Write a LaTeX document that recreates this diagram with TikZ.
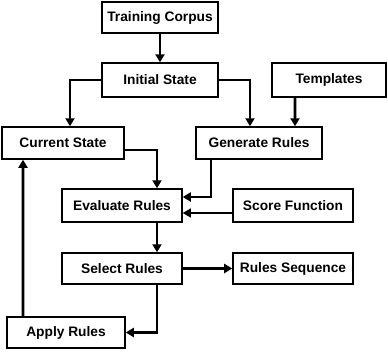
\documentclass[tikz,border=0pt]{standalone}
\usepackage{fontspec}
\setmainfont{Liberation Sans}
\usetikzlibrary{arrows.meta, positioning}
\tikzset{
  stage/.style={draw, line width=1.5bp, inner sep=0pt, font=\fontsize{13.8}{16}\selectfont\bfseries},
  flow/.style={line width=2.8bp, -{Triangle[length=8bp,width=9bp]}},
  thinflow/.style={line width=1.2bp, -{Triangle[length=8bp,width=9bp]}},
}
\begin{document}
\begin{tikzpicture}[x=1bp,y=-1bp]
    \useasboundingbox (0,0) rectangle (388,352);
    % boxes
    \node[stage, minimum width=116bp, minimum height=31bp] (train) at (160,17.5) {Training Corpus};
    \node[stage, minimum width=116bp, minimum height=34bp] (init) at (160,80) {Initial State};
    \node[stage, minimum width=114bp, minimum height=34bp] (tmpl) at (329,80) {Templates};
    \node[stage, minimum width=122bp, minimum height=32bp] (cur) at (63,143) {Current State};
    \node[stage, minimum width=126bp, minimum height=32bp] (gen) at (259,143) {Generate Rules};
    \node[stage, minimum width=120bp, minimum height=33bp] (eval) at (122,205.5) {Evaluate Rules};
    \node[stage, minimum width=120bp, minimum height=33bp] (score) at (293,205.5) {Score Function};
    \node[stage, minimum width=120bp, minimum height=31bp] (sel) at (122,268.5) {Select Rules};
    \node[stage, minimum width=120bp, minimum height=31bp] (seq) at (293,268.5) {Rules Sequence};
    \node[stage, minimum width=118bp, minimum height=31bp] (apply) at (66,332.5) {Apply Rules};
    % connectors
    \draw[flow] (train) -- (init);
    \draw[flow] (init.west) -| ([xshift=7bp]cur.north);
    \draw[flow] (init.east) -| ([xshift=-9bp]gen.north);
    \draw[flow] ([xshift=-34bp]tmpl.south) -- ([xshift=36bp]gen.north);
    \draw[flow] ([yshift=-7bp]cur.east) -| ([xshift=35bp]eval.north);
    \draw[flow] ([xshift=-48bp]gen.south) |- ([yshift=8.5bp]eval.east);
    \draw[thinflow] ([yshift=-7.5bp]score.west) -- ([yshift=-7.5bp]eval.east);
    \draw[flow] ([xshift=35bp]eval.south) -- ([xshift=35bp]sel.north);
    \draw[flow] (sel.east) -- (seq.west);
    \draw[flow] ([xshift=35bp]sel.south) |- (apply.east);
    \draw[flow] ([xshift=-43bp]apply.north) -- ([xshift=-40bp]cur.south);
\end{tikzpicture}
\end{document}
